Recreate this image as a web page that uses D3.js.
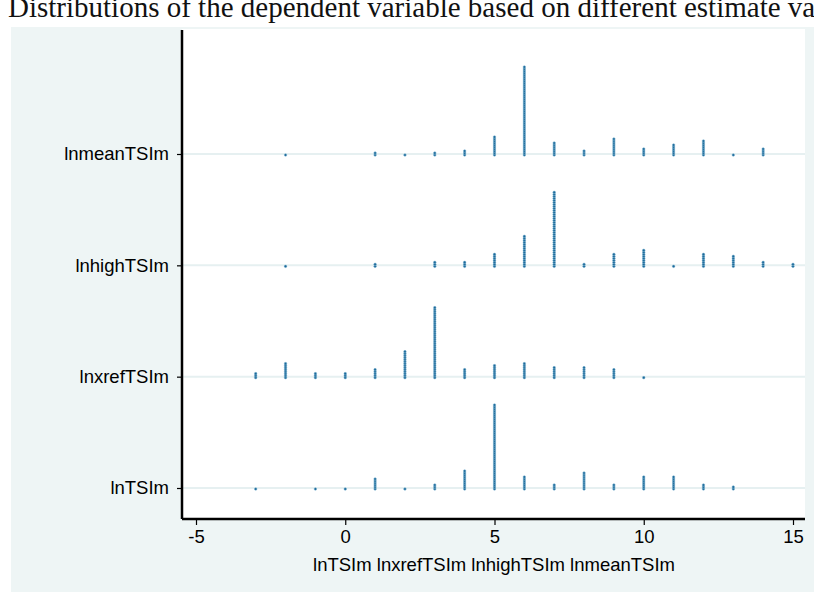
<!DOCTYPE html>
<html>
<head>
<meta charset="utf-8">
<script src="https://cdn.jsdelivr.net/npm/d3@7"></script>
<style>
  body { margin: 0; background: #ffffff; overflow: hidden; }
  svg { display: block; }
</style>
</head>
<body>
<div id="chart"></div>
<script>
// categories, bottom to top
var categories = ['lnTSIm', 'lnxrefTSIm', 'lnhighTSIm', 'lnmeanTSIm'];

// value / count (number of stacked dots) for each variable
var lnTSImValues      = [-3, -1, 0, 1, 2, 3, 4, 5, 6, 7, 8, 9, 10, 11, 12, 13];
var lnTSImCounts      = [ 1,  1, 1, 6, 1, 3, 10, 43, 7, 3, 9, 3, 7, 7, 3, 2];

var lnxrefTSImValues  = [-3, -2, -1, 0, 1, 2, 3, 4, 5, 6, 7, 8, 9, 10];
var lnxrefTSImCounts  = [ 3,  8,  3, 3, 5, 14, 36, 5, 7, 8, 6, 6, 5, 1];

var lnhighTSImValues  = [-2, 1, 3, 4, 5, 6, 7, 8, 9, 10, 11, 12, 13, 14, 15];
var lnhighTSImCounts  = [ 1, 2, 3, 3, 7, 16, 38, 2, 7, 9, 1, 7, 6, 3, 2];

var lnmeanTSImValues  = [-2, 1, 2, 3, 4, 5, 6, 7, 8, 9, 10, 11, 12, 13, 14];
var lnmeanTSImCounts  = [ 1, 2, 1, 2, 3, 10, 45, 7, 3, 9, 4, 6, 8, 1, 4];

var xTicks = [-5, 0, 5, 10, 15];
var xTitle = 'lnTSIm lnxrefTSIm lnhighTSIm lnmeanTSIm';
var pageTitle = 'Distributions of the dependent variable based on different estimate variables';

// Chart params
var width  = 814;
var height = 592;
var plot = { left: 182, right: 805, top: 29, bottom: 519 };
var bg_color   = '#eef5f5';
var grid_color = '#e6f0f1';
var dot_color  = '#1b6898';
var dot_edge   = '#86bad6';
var label_font = '"Liberation Sans", Arial, sans-serif';

var series = [
    { name: 'lnTSIm',     values: lnTSImValues,     counts: lnTSImCounts },
    { name: 'lnxrefTSIm', values: lnxrefTSImValues, counts: lnxrefTSImCounts },
    { name: 'lnhighTSIm', values: lnhighTSImValues, counts: lnhighTSImCounts },
    { name: 'lnmeanTSIm', values: lnmeanTSImValues, counts: lnmeanTSImCounts }
];

var svg = d3.select('#chart')
    .append('svg')
    .attr('width', width)
    .attr('height', height);

// title line above the graph (cut by the window, as in the source)
svg.append('text')
    .attr('x', 8)
    .attr('y', 17)
    .attr('font-family', '"Liberation Serif", "DejaVu Serif", serif')
    .attr('font-size', '29px')
    .attr('fill', '#111')
    .text(pageTitle);

// graph region + plot region
svg.append('rect')
    .attr('x', 11).attr('y', 27)
    .attr('width', width - 11).attr('height', height - 27)
    .attr('fill', bg_color);

svg.append('rect')
    .attr('x', plot.left).attr('y', plot.top)
    .attr('width', plot.right - plot.left).attr('height', plot.bottom - plot.top)
    .attr('fill', '#ffffff');

// Scales
var x_scale = d3.scaleLinear()
    .domain([-5, 15])
    .range([196, 793]);

var y_scale = d3.scalePoint()
    .domain(categories)
    .range([488, 154]);

// stack index -> vertical offset of a dot
var stack_scale = d3.scaleLinear()
    .domain([0, 1])
    .range([1, -1]);

// grid lines
svg.append('g')
    .selectAll('line')
    .data(categories)
    .enter()
    .append('line')
    .attr('x1', plot.left)
    .attr('x2', plot.right)
    .attr('y1', function(d) { return y_scale(d); })
    .attr('y2', function(d) { return y_scale(d); })
    .attr('stroke', grid_color)
    .attr('stroke-width', 2);

// dots
series.forEach(function(s) {
    var dots = [];
    s.values.forEach(function(v, i) {
        for (var k = 0; k < s.counts[i]; k++) {
            dots.push({ value: v, k: k });
        }
    });
    svg.append('g')
        .attr('class', s.name)
        .selectAll('circle')
        .data(dots)
        .enter()
        .append('circle')
        .attr('cx', function(d) { return x_scale(d.value); })
        .attr('cy', function(d) { return y_scale(s.name) + stack_scale(d.k); })
        .attr('r', 1.3)
        .attr('fill', dot_color)
        .attr('stroke', dot_edge)
        .attr('stroke-width', 0.5);
});

// Axes
var x_axis = d3.axisBottom(x_scale)
    .tickValues(xTicks)
    .tickFormat(function(d) { return String(d); }) // plain hyphen like Stata
    .tickSize(6)
    .tickPadding(5);

var gx = svg.append('g')
    .attr('transform', 'translate(0,' + plot.bottom + ')')
    .call(x_axis);
gx.select('.domain')
    .attr('d', 'M' + plot.left + ',0H' + plot.right)
    .attr('stroke', '#000')
    .attr('stroke-width', 2.5);
gx.selectAll('.tick line').attr('stroke', '#000').attr('stroke-width', 1.2);
gx.selectAll('.tick text')
    .attr('font-family', label_font)
    .attr('font-size', '18.5px')
    .attr('fill', '#000');

var y_axis = d3.axisLeft(y_scale)
    .tickSize(5)
    .tickPadding(8);

var gy = svg.append('g')
    .attr('transform', 'translate(' + plot.left + ',0)')
    .call(y_axis);
gy.select('.domain')
    .attr('d', 'M0,' + (plot.top + 1) + 'V' + plot.bottom)
    .attr('stroke', '#000')
    .attr('stroke-width', 2.5);
gy.selectAll('.tick line').attr('stroke', '#000').attr('stroke-width', 1.2);
gy.selectAll('.tick text')
    .attr('font-family', label_font)
    .attr('font-size', '18.5px')
    .attr('fill', '#000');

// x axis title
svg.append('text')
    .attr('x', 494)
    .attr('y', 571)
    .attr('text-anchor', 'middle')
    .attr('font-family', label_font)
    .attr('font-size', '18.5px')
    .attr('fill', '#000')
    .text(xTitle);
</script>
</body>
</html>
